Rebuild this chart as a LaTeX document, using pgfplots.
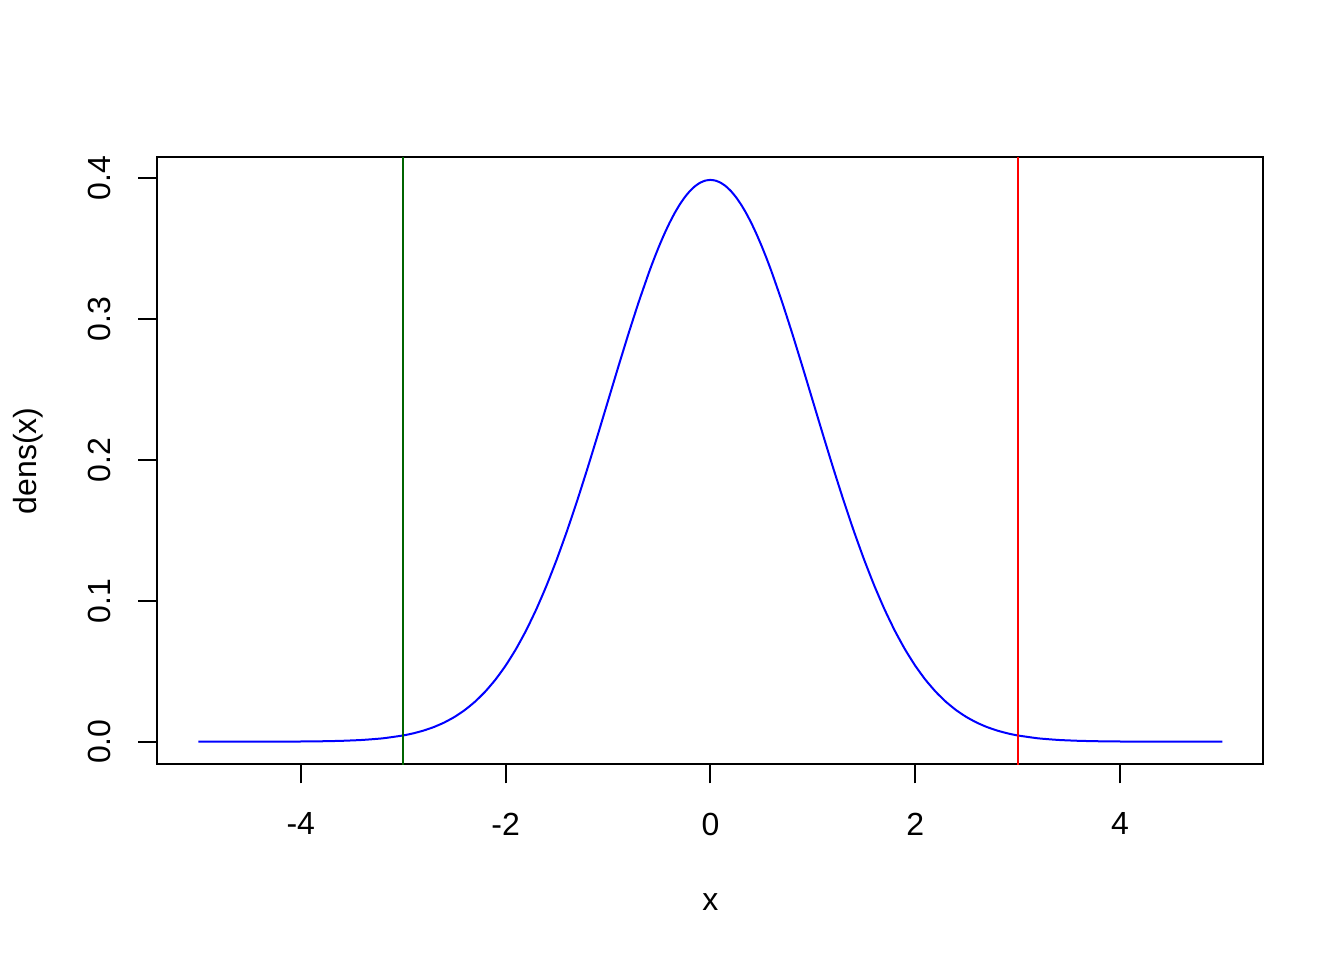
\documentclass[border=0pt]{standalone}
\usepackage{fontspec}
\setmainfont{Liberation Sans}
\usepackage{pgfplots}
\pgfplotsset{compat=1.18}
\definecolor{rdarkgreen}{RGB}{0,100,0}
\begin{document}
\begin{tikzpicture}[font=\fontsize{12bp}{14.4bp}\selectfont]
\useasboundingbox (0,0) rectangle (504bp,360bp);
\begin{axis}[
  at={(59.04bp,73.44bp)}, anchor=south west,
  scale only axis, width=414.72bp, height=227.52bp,
  xmin=-5.4, xmax=5.4, ymin=-0.015957, ymax=0.414900,
  xtick={-4,-2,0,2,4}, ytick={0,0.1,0.2,0.3,0.4},
  xticklabels={-4,-2,0,2,4},
  yticklabels={0.0,0.1,0.2,0.3,0.4},
  xtick pos=lower, ytick pos=left,
  tick align=outside, major tick length=7.2bp,
  every tick/.style={black, line width=0.75bp},
  axis line style={line width=0.75bp, black},
  /pgf/number format/assume math mode=true,
  xticklabel shift=10.8bp, yticklabel shift=10bp,
  xticklabel style={font=\fontsize{12bp}{14.4bp}\selectfont, anchor=north, inner sep=0pt},
  yticklabel style={font=\fontsize{12bp}{14.4bp}\selectfont, rotate=90, anchor=south, inner sep=0pt},
  xlabel={x}, ylabel={dens(x)},
  every axis x label/.style={at={(axis description cs:0.5,-0.2419)}, anchor=base, font=\fontsize{12bp}{14.4bp}\selectfont},
  every axis y label/.style={at={(axis description cs:-0.1092,0.5)}, anchor=base, rotate=90, font=\fontsize{12bp}{14.4bp}\selectfont},
]
\addplot[blue, line width=0.75bp, smooth, tension=0.3] coordinates {
(-5.0,0.0000015) (-4.5,0.000016) (-4.0,0.000134) (-3.8,0.000292) (-3.6,0.000612)
(-3.4,0.001232) (-3.2,0.002384) (-3.0,0.004432) (-2.9,0.005953) (-2.8,0.007915)
(-2.7,0.010421) (-2.6,0.013583) (-2.5,0.017528) (-2.4,0.022395) (-2.3,0.028327)
(-2.2,0.035475) (-2.1,0.043984) (-2.0,0.053991) (-1.9,0.065616) (-1.8,0.078950)
(-1.7,0.094049) (-1.6,0.110921) (-1.5,0.129518) (-1.4,0.149727) (-1.3,0.171369)
(-1.2,0.194186) (-1.1,0.217852) (-1.0,0.241971) (-0.9,0.266085) (-0.8,0.289692)
(-0.7,0.312254) (-0.6,0.333225) (-0.55,0.342944) (-0.5,0.352065) (-0.45,0.360527)
(-0.4,0.368270) (-0.35,0.375240) (-0.3,0.381388) (-0.25,0.386668)
(-0.2,0.391043) (-0.15,0.394479) (-0.1,0.396953) (-0.05,0.398443) (0.0,0.398942)
(0.05,0.398443) (0.1,0.396953) (0.15,0.394479) (0.2,0.391043) (0.25,0.386668)
(0.3,0.381388) (0.35,0.375240) (0.4,0.368270) (0.45,0.360527) (0.5,0.352065)
(0.55,0.342944)
(0.6,0.333225) (0.7,0.312254) (0.8,0.289692) (0.9,0.266085) (1.0,0.241971)
(1.1,0.217852) (1.2,0.194186) (1.3,0.171369) (1.4,0.149727) (1.5,0.129518)
(1.6,0.110921) (1.7,0.094049) (1.8,0.078950) (1.9,0.065616) (2.0,0.053991)
(2.1,0.043984) (2.2,0.035475) (2.3,0.028327) (2.4,0.022395) (2.5,0.017528)
(2.6,0.013583) (2.7,0.010421) (2.8,0.007915) (2.9,0.005953) (3.0,0.004432)
(3.2,0.002384) (3.4,0.001232) (3.6,0.000612) (3.8,0.000292) (4.0,0.000134)
(4.5,0.000016) (5.0,0.0000015)
};
\addplot[rdarkgreen, line width=0.75bp] coordinates {(-3,-0.1) (-3,0.6)};
\addplot[red, line width=0.75bp] coordinates {(3,-0.1) (3,0.6)};
\end{axis}
\end{tikzpicture}
\end{document}
